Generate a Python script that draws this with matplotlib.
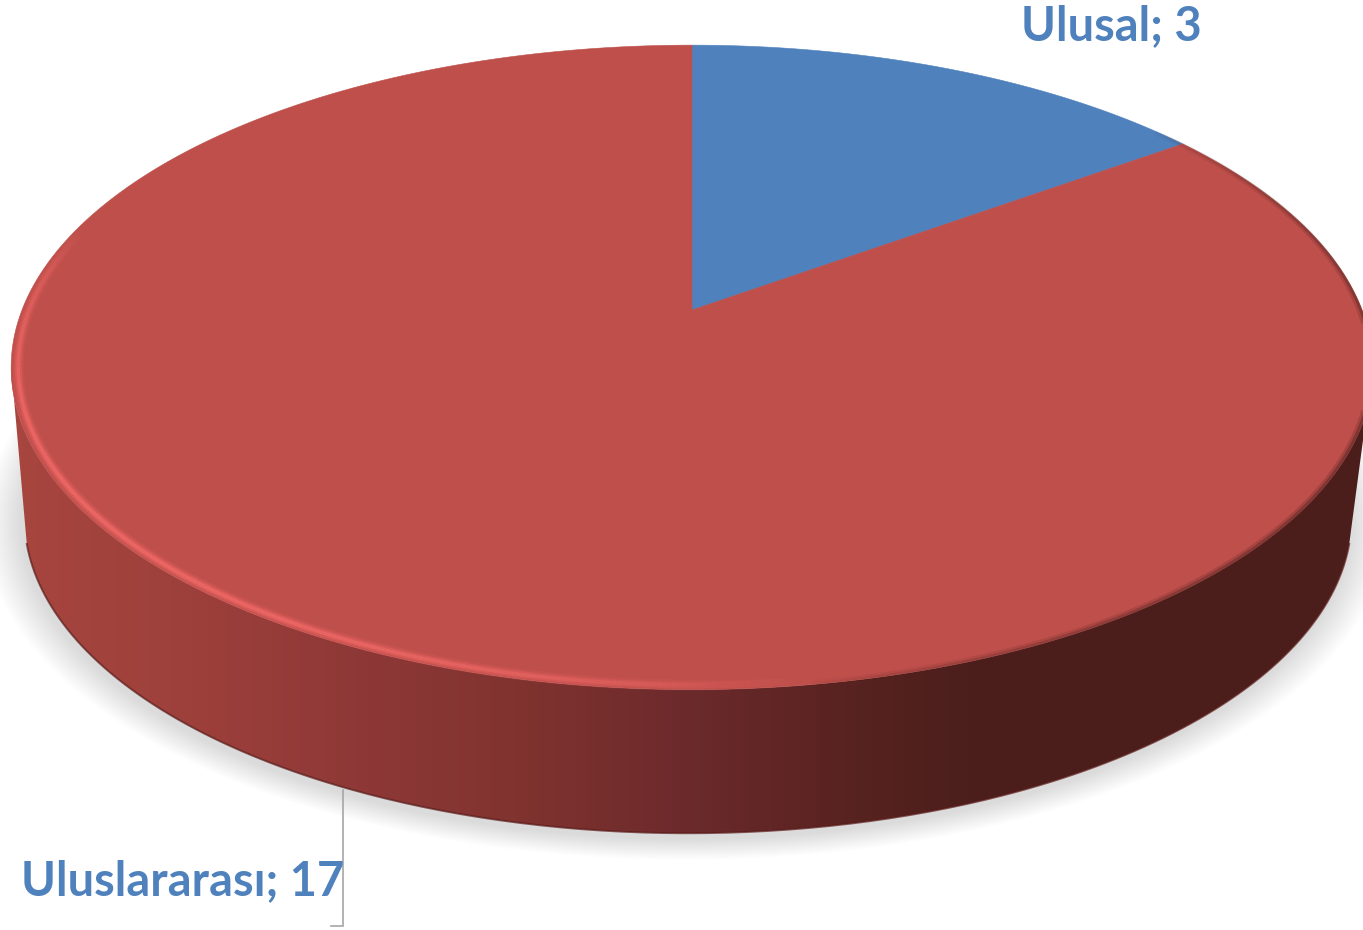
#!/usr/bin/env python3
# -*- coding: utf-8 -*-
import numpy as np
import matplotlib
matplotlib.use("Agg")
import matplotlib.pyplot as plt
from matplotlib.collections import LineCollection
from matplotlib.colors import LinearSegmentedColormap, to_rgba
from matplotlib.patches import Polygon

#_________________________________________
# DATA
#_________________________________________
categories = ["Ulusal", "Uluslararası"]
values = [3, 17]

#_________________________________________
# VARIABLES
#_________________________________________
slice_colors = ["#4F81BD", "#BE4F4B"]
label_color = "#4F81BD"
k = 0.178  # perspective strength of the tilted disc


def rim(theta, cx, cy, a, b):
    # theta in degrees, clockwise from 12 o'clock
    t = np.radians(theta)
    u, v = np.sin(t), np.cos(t)
    d = 1 + k * v
    return cx + a * u / d, cy - b * v / d


def top(theta):
    return rim(theta, 692, 310, 670, 312)


def bottom(theta):
    return rim(theta, 688, 461, 653, 306)


fig = plt.figure(figsize=(13.63, 9.30), dpi=100)
ax = fig.add_axes([0, 0, 1, 1])

#_________________________________________
# SHADOW
#_________________________________________
th = np.linspace(0, 360, 361)
n_shadow = 18
for i in range(n_shadow):
    grow = 1 + (n_shadow - i) * 0.0032
    x, y = rim(th, 686, 466, 653 * grow, 306 * grow)
    ax.add_patch(Polygon(np.c_[x, y], closed=True, fc="#000000", ec="none",
                         alpha=0.0075, zorder=1))

#_________________________________________
# SIDE WALL
#_________________________________________
wall_cmap = LinearSegmentedColormap.from_list("wall", [
    (0.00, "#A8463F"), (0.15, "#9C3F3B"), (0.27, "#8D3837"),
    (0.38, "#80332F"), (0.50, "#6D2A2C"), (0.62, "#582320"),
    (0.72, "#4B1E1C"), (1.00, "#4B1E1C")])
xt, yt = top(np.linspace(100, 260, 300))
xb, yb = bottom(np.linspace(105, 255, 300))
wall = Polygon(np.r_[np.c_[xt, yt], np.c_[xb, yb][::-1]], closed=True,
               fc="none", ec="none", zorder=2)
ax.add_patch(wall)
grad = np.linspace(0, 1, 1363).reshape(1, -1)
im = ax.imshow(grad, extent=[0, 1363, 930, 0], aspect="auto", cmap=wall_cmap,
               vmin=0, vmax=1, zorder=2)
im.set_clip_path(wall)
ax.plot(xb, yb, color="#5A1C1A", lw=1.4, alpha=0.7, zorder=2.5)

#_________________________________________
# TOP OF THE PIE
#_________________________________________
edges = np.cumsum([0] + values) / np.sum(values) * 360
apex = top(0)[0], 310
for start, stop, col in zip(edges[:-1], edges[1:], slice_colors):
    tt = np.linspace(start, stop, 400)
    x, y = top(tt)
    ax.add_patch(Polygon(np.r_[[apex], np.c_[x, y]], closed=True, fc=col,
                         ec=col, lw=0.4, zorder=3))


# bevel highlight on the front left, dark soft edge on the right
def rim_band(th0, th1, inset, color, weight, alpha):
    tt = np.linspace(th0, th1, 240)
    x, y = rim(tt, 692, 310, 670 - inset, 312 - inset * 0.55)
    pts = np.c_[x, y]
    segs = np.stack([pts[:-1], pts[1:]], axis=1)
    env = np.sin(np.linspace(0, np.pi, len(segs))) ** 0.6
    cols = np.tile(to_rgba(color), (len(segs), 1))
    cols[:, 3] = env * alpha
    return LineCollection(segs, colors=cols, linewidths=weight, capstyle="butt", zorder=4)


ax.add_collection(rim_band(172, 286, 7, "#DC5C5A", 8, 0.4))
ax.add_collection(rim_band(172, 286, 7, "#E4605E", 5, 0.7))
ax.add_collection(rim_band(178, 282, 7, "#EC6866", 2.5, 0.9))
ax.add_collection(rim_band(50, 172, 2.5, "#4B1E1C", 4, 0.22))
ax.add_collection(rim_band(50, 172, 1.2, "#4B1E1C", 2.2, 0.4))

#_________________________________________
# LABELS
#_________________________________________
ax.plot([343, 343, 331], [790, 926, 926], color="#A6A6A6", lw=1.2, zorder=5,
        solid_joinstyle="miter")
ax.text(1021, 40, "%s; %d" % (categories[0], values[0]), color=label_color,
        family="Lato", weight="bold", fontsize=33.8, ha="left", va="baseline", zorder=6)
ax.text(21, 895, "%s; %d" % (categories[1], values[1]), color=label_color,
        family="Lato", weight="bold", fontsize=33.8, ha="left", va="baseline", zorder=6)

ax.set_xlim(0, 1363)
ax.set_ylim(930, 0)
ax.axis("off")
fig.savefig("out.png", dpi=100, facecolor="white")
